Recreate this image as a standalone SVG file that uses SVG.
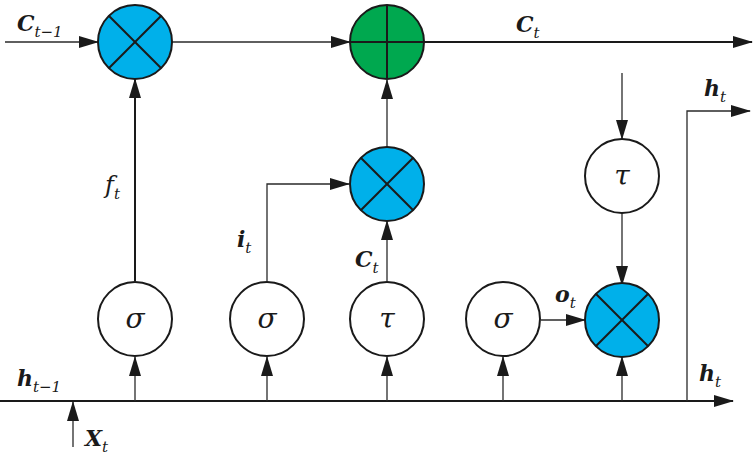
<svg xmlns="http://www.w3.org/2000/svg" width="755" height="465" viewBox="0 0 755 465">
<style>
.ln{stroke:#2a2a2a;stroke-width:1.3;fill:none}
.lb{stroke:#1a1a1a;stroke-width:2;fill:none}
.c{stroke:#1a1a1a;stroke-width:2}
.w{fill:#ffffff}
.b{fill:#00b0ea}
.g{fill:#00a84f}
.x{stroke:#1a1a1a;stroke-width:2}
</style>
<defs>
<marker id="ah" markerWidth="20" markerHeight="12" refX="19" refY="6" orient="auto" markerUnits="userSpaceOnUse">
<path d="M0,0 L20,6 L0,12 Z" fill="#1a1a1a"/>
</marker>
</defs>
<g id="connectors">
<line class="ln" x1="5" y1="42" x2="98" y2="42" marker-end="url(#ah)"/>
<line class="ln" x1="172" y1="42" x2="350" y2="42" marker-end="url(#ah)"/>
<line class="lb" x1="424" y1="42" x2="752" y2="42" marker-end="url(#ah)"/>
<line class="lb" x1="135" y1="281" x2="135" y2="79" marker-end="url(#ah)"/>
<polyline class="ln" points="267,281 267,184 349,184" marker-end="url(#ah)"/>
<line class="ln" x1="387" y1="147" x2="387" y2="80" marker-end="url(#ah)"/>
<line class="ln" x1="387" y1="281" x2="387" y2="221" marker-end="url(#ah)"/>
<line class="ln" x1="622" y1="73" x2="622" y2="139" marker-end="url(#ah)"/>
<line class="ln" x1="622" y1="213" x2="622" y2="285" marker-end="url(#ah)"/>
<line class="ln" x1="541" y1="320" x2="585" y2="320" marker-end="url(#ah)"/>
<line class="lb" x1="0" y1="401" x2="733" y2="401" marker-end="url(#ah)"/>
<polyline class="ln" points="687,401 687,111 750,111" marker-end="url(#ah)"/>
<line class="ln" x1="135" y1="401" x2="135" y2="357" marker-end="url(#ah)"/>
<line class="ln" x1="267" y1="401" x2="267" y2="357" marker-end="url(#ah)"/>
<line class="ln" x1="387" y1="401" x2="387" y2="357" marker-end="url(#ah)"/>
<line class="ln" x1="503" y1="401" x2="503" y2="357" marker-end="url(#ah)"/>
<line class="ln" x1="622" y1="401" x2="622" y2="357" marker-end="url(#ah)"/>
<line class="ln" x1="73" y1="447" x2="73" y2="402" marker-end="url(#ah)"/>
</g>
<g id="mult_forget">
<circle class="c b" cx="135" cy="42" r="37"/>
<line class="x" x1="108.8" y1="15.8" x2="161.2" y2="68.2"/>
<line class="x" x1="161.2" y1="15.8" x2="108.8" y2="68.2"/>
</g>
<g id="add_cell">
<circle class="c g" cx="387" cy="42" r="37"/>
<line class="x" x1="350" y1="42" x2="424" y2="42"/>
<line class="x" x1="387" y1="5" x2="387" y2="79"/>
</g>
<g id="mult_input">
<circle class="c b" cx="387" cy="184" r="37"/>
<line class="x" x1="360.8" y1="157.8" x2="413.2" y2="210.2"/>
<line class="x" x1="413.2" y1="157.8" x2="360.8" y2="210.2"/>
</g>
<g id="tanh_out">
<circle class="c w" cx="622" cy="176" r="37"/>
<text x="622" y="185" font-family="DejaVu Serif, serif" font-style="italic" font-size="28" text-anchor="middle" fill="#1a1a1a">τ</text>
</g>
<g id="sigma_f">
<circle class="c w" cx="135" cy="319" r="37"/>
<text x="135" y="328" font-family="DejaVu Serif, serif" font-style="italic" font-size="28" text-anchor="middle" fill="#1a1a1a">σ</text>
</g>
<g id="sigma_i">
<circle class="c w" cx="267" cy="319" r="37"/>
<text x="267" y="328" font-family="DejaVu Serif, serif" font-style="italic" font-size="28" text-anchor="middle" fill="#1a1a1a">σ</text>
</g>
<g id="tanh_c">
<circle class="c w" cx="387" cy="319" r="37"/>
<text x="387" y="328" font-family="DejaVu Serif, serif" font-style="italic" font-size="28" text-anchor="middle" fill="#1a1a1a">τ</text>
</g>
<g id="sigma_o">
<circle class="c w" cx="503" cy="319" r="37"/>
<text x="503" y="328" font-family="DejaVu Serif, serif" font-style="italic" font-size="28" text-anchor="middle" fill="#1a1a1a">σ</text>
</g>
<g id="mult_output">
<circle class="c b" cx="622" cy="320" r="37"/>
<line class="x" x1="595.8" y1="293.8" x2="648.2" y2="346.2"/>
<line class="x" x1="648.2" y1="293.8" x2="595.8" y2="346.2"/>
</g>
<g id="labels" font-family="DejaVu Serif, serif" font-style="italic" fill="#1a1a1a">
<text x="17" y="31"><tspan font-weight="bold" font-size="22">C</tspan><tspan font-size="15" dy="6">t−1</tspan></text>
<text x="516" y="32"><tspan font-weight="bold" font-size="22">C</tspan><tspan font-size="15" dy="6">t</tspan></text>
<text x="704" y="96"><tspan font-weight="bold" font-size="22">h</tspan><tspan font-size="15" dy="6">t</tspan></text>
<text x="105" y="193"><tspan font-size="24">f</tspan><tspan font-size="15" dy="6">t</tspan></text>
<text x="237" y="247"><tspan font-weight="bold" font-size="22">i</tspan><tspan font-size="15" dy="6">t</tspan></text>
<text x="355" y="267"><tspan font-weight="bold" font-size="22">C</tspan><tspan font-size="15" dy="6">t</tspan></text>
<text x="555" y="302"><tspan font-weight="bold" font-size="22">o</tspan><tspan font-size="15" dy="6">t</tspan></text>
<text x="17" y="386"><tspan font-weight="bold" font-size="22">h</tspan><tspan font-size="15" dy="6">t−1</tspan></text>
<text x="699" y="381"><tspan font-weight="bold" font-size="22">h</tspan><tspan font-size="15" dy="6">t</tspan></text>
<text x="85" y="446"><tspan font-weight="bold" font-size="22">X</tspan><tspan font-size="15" dy="6">t</tspan></text>
</g>
</svg>
